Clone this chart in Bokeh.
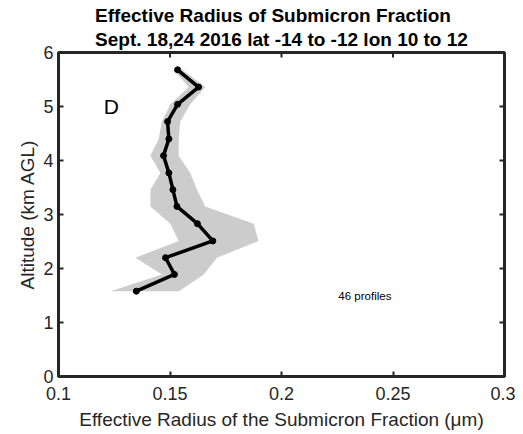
from bokeh.plotting import figure
from bokeh.embed import file_html
from bokeh.resources import INLINE
from bokeh.models import FixedTicker, NumeralTickFormatter, Label, Range1d

# Data
altitude = [1.58, 1.89, 2.20, 2.51, 2.83, 3.15, 3.46, 3.77, 4.09, 4.40, 4.72, 5.04, 5.36, 5.68]
reff     = [0.1349, 0.1520, 0.1480, 0.1692, 0.1623, 0.1531, 0.1513, 0.1495, 0.1471, 0.1495, 0.1489, 0.1534, 0.1628, 0.1534]
reff_lo  = [0.1233, 0.1464, 0.1345, 0.1539, 0.1502, 0.1412, 0.1412, 0.1457, 0.1412, 0.1449, 0.1464, 0.1502, 0.1584, 0.1515]
reff_hi  = [0.1540, 0.1651, 0.1711, 0.1897, 0.1875, 0.1658, 0.1621, 0.1591, 0.1539, 0.1539, 0.1546, 0.1591, 0.1658, 0.1555]
x_ticks = [0.1, 0.15, 0.2, 0.25, 0.3]
y_ticks = [0, 1, 2, 3, 4, 5, 6]
x_lim = (0.1, 0.3)
y_lim = (0, 6)

FONT = "Liberation Sans"
DARK = "#262626"

p = figure(output_backend="svg", toolbar_location=None,
           width=515, height=432,
           min_border_left=58, min_border_right=11, min_border_top=51, min_border_bottom=56,
           x_range=Range1d(*x_lim), y_range=Range1d(*y_lim),
           title="Effective Radius of Submicron Fraction\nSept. 18,24 2016 lat -14 to -12 lon 10 to 12")

p.title.align = "center"
p.title.text_font = FONT
p.title.text_font_size = "19px"
p.title.text_font_style = "bold"
p.title.text_color = "black"
p.title.text_line_height = 1.15
p.title.standoff = 5
p.title.offset = 0

p.xgrid.visible = False
p.ygrid.visible = False
p.outline_line_color = DARK
p.outline_line_width = 3
p.outline_line_alpha = 1

for ax in (p.xaxis[0], p.yaxis[0]):
    ax.major_tick_in = 5
    ax.major_tick_out = 0
    ax.minor_tick_in = 0
    ax.minor_tick_out = 0
    ax.major_tick_line_color = DARK
    ax.major_tick_line_width = 2
    ax.axis_line_color = None
    ax.major_label_text_font = FONT
    ax.major_label_text_font_size = "18px"
    ax.major_label_text_color = DARK
    ax.axis_label_text_font = FONT
    ax.axis_label_text_font_size = "19px"
    ax.axis_label_text_font_style = "normal"
    ax.axis_label_text_color = DARK

p.xaxis[0].ticker = FixedTicker(ticks=x_ticks)
p.xaxis[0].formatter = NumeralTickFormatter(format="0.[00]")
p.yaxis[0].ticker = FixedTicker(ticks=y_ticks)
p.xaxis[0].axis_label = "Effective Radius of the Submicron Fraction (\u03bcm)"
p.yaxis[0].axis_label = "Altitude (km AGL)"
p.xaxis[0].major_label_standoff = 10
p.xaxis[0].axis_label_standoff = 6
p.yaxis[0].major_label_standoff = 5
p.yaxis[0].axis_label_standoff = 2

# inward ticks on the top and right frame edges (same tick positions as the axes)
tick_dx = (x_lim[1] - x_lim[0]) * 5 / 446
tick_dy = (y_lim[1] - y_lim[0]) * 5 / 325
p.segment(x0=x_ticks, y0=[y_lim[1]] * len(x_ticks), x1=x_ticks, y1=[y_lim[1] - tick_dy] * len(x_ticks),
          line_color=DARK, line_width=2)
p.segment(x0=[x_lim[1]] * len(y_ticks), y0=y_ticks, x1=[x_lim[1] - tick_dx] * len(y_ticks), y1=y_ticks,
          line_color=DARK, line_width=2)

patch_x = reff_lo + reff_hi[::-1]
patch_y = altitude + altitude[::-1]
p.patch(patch_x, patch_y, fill_color="#cccccc", line_color=None)

p.line(reff, altitude, line_color="black", line_width=3.5)
p.scatter(reff, altitude, size=6, fill_color="black", line_color="black")

p.add_layout(Label(x=0.1237, y=5.0, text="D", text_font=FONT, text_font_size="21px",
                   text_align="center", text_baseline="middle", text_color="black"))
p.add_layout(Label(x=0.2255, y=1.49, text="46 profiles", text_font=FONT, text_font_size="11.5px",
                   text_align="left", text_baseline="middle", text_color="black"))

open("out.html", "w").write(file_html(p, INLINE))
